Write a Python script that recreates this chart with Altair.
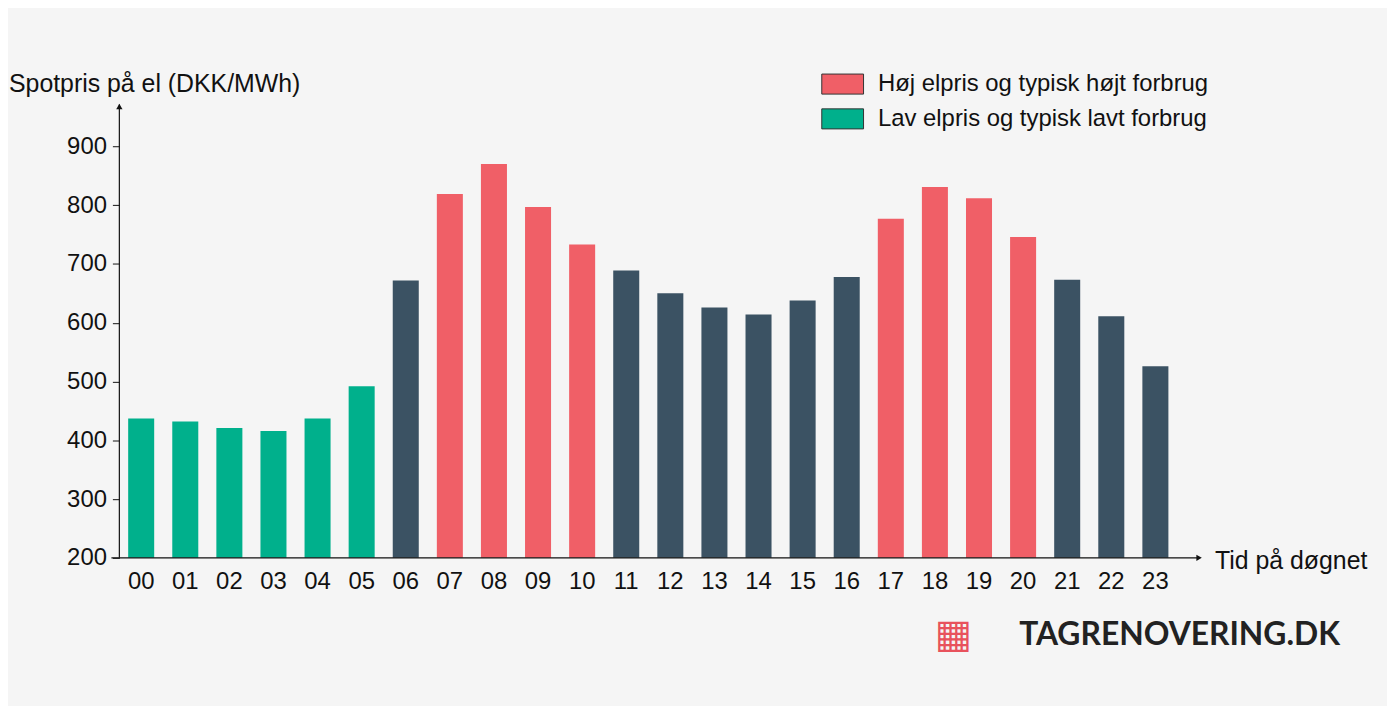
import altair as alt
import pandas as pd

hours = [f"{h:02d}" for h in range(24)]
values = [437, 432, 421, 416, 437, 492, 672, 819, 870, 797, 733, 689, 650, 626,
          614, 638, 678, 777, 831, 812, 746, 673, 611, 526]
HIGH = "Høj elpris og typisk højt forbrug"
LOW = "Lav elpris og typisk lavt forbrug"
MID = "Øvrig"
cats = [LOW]*6 + [MID] + [HIGH]*4 + [MID]*6 + [HIGH]*4 + [MID]*3

df = pd.DataFrame({"hour": hours, "value": values, "cat": cats})
W, H = 1064, 454
FONT = "Liberation Sans"

bars = alt.Chart(df).mark_bar(clip=True).encode(
    x=alt.X("hour:N", sort=hours, scale=alt.Scale(paddingInner=0.41, paddingOuter=0.2),
            axis=alt.Axis(title=None, labelAngle=0, labelFontSize=24, labelFont=FONT,
                          labelColor="#111", domain=False, ticks=False, labelPadding=12)),
    y=alt.Y("value:Q", scale=alt.Scale(domain=[200, 968], nice=False, zero=False),
            axis=alt.Axis(title=None, values=[200,300,400,500,600,700,800,900],
                          labelFontSize=24, labelFont=FONT, labelColor="#111",
                          domain=False, grid=False, tickSize=7, tickColor="#111",
                          labelPadding=6)),
    color=alt.Color("cat:N",
                    scale=alt.Scale(domain=[HIGH, LOW, MID], range=["#f05f67", "#00b08c", "#3b5263"]),
                    legend=alt.Legend(title=None, values=[HIGH, LOW], orient="none",
                                      legendX=706, legendY=-44,
                                      symbolType="M-1,-0.48H1V0.48H-1Z", symbolSize=1764,
                                      symbolStrokeColor="#333", symbolStrokeWidth=1,
                                      labelFontSize=24, labelFont=FONT, labelColor="#111",
                                      labelLimit=600, rowPadding=1, labelOffset=14)),
)

one = alt.Data(values=[{"a": 1}])
yline = alt.Chart(one).mark_rule(color="#111", strokeWidth=1.2).encode(
    x=alt.value(0), y=alt.value(-2), y2=alt.value(H))
xline = alt.Chart(one).mark_rule(color="#111", strokeWidth=1.2).encode(
    x=alt.value(-8), x2=alt.value(1084), y=alt.value(H))
yarrow = alt.Chart(one).mark_point(shape="triangle-up", filled=True, color="#111", size=40, opacity=1).encode(
    x=alt.value(0), y=alt.value(0))
xarrow = alt.Chart(one).mark_point(shape="triangle-right", filled=True, color="#111", size=40, opacity=1).encode(
    x=alt.value(1086), y=alt.value(H))
ytitle = alt.Chart(one).mark_text(text="Spotpris på el (DKK/MWh)", font=FONT, fontSize=25,
                                  align="left", baseline="middle", color="#111").encode(
    x=alt.value(-111), y=alt.value(-23))
xtitle = alt.Chart(one).mark_text(text="Tid på døgnet", font=FONT, fontSize=25,
                                  align="left", baseline="middle", color="#111").encode(
    x=alt.value(1102), y=alt.value(H + 3))
logo = alt.Chart(one).mark_text(text="TAGRENOVERING.DK", font="Lato", fontWeight="bold",
                                fontSize=32, align="left", baseline="middle", color="#222").encode(
    x=alt.value(905), y=alt.value(532))
icon = alt.Chart(one).mark_text(text="▦", font="DejaVu Sans", fontSize=40,
                                align="left", baseline="middle", color="#e8525c").encode(
    x=alt.value(820), y=alt.value(532))

chart = alt.layer(bars, yline, xline, yarrow, xarrow, ytitle, xtitle, logo, icon).properties(
    width=W, height=H,
    autosize=alt.AutoSizeParams(type="none"),
    padding={"left": 112, "top": 97, "right": 211, "bottom": 147},
    background="#f5f5f5",
).configure_view(stroke=None)

chart.save("out.html", embed_options={"renderer": "svg", "actions": False})
